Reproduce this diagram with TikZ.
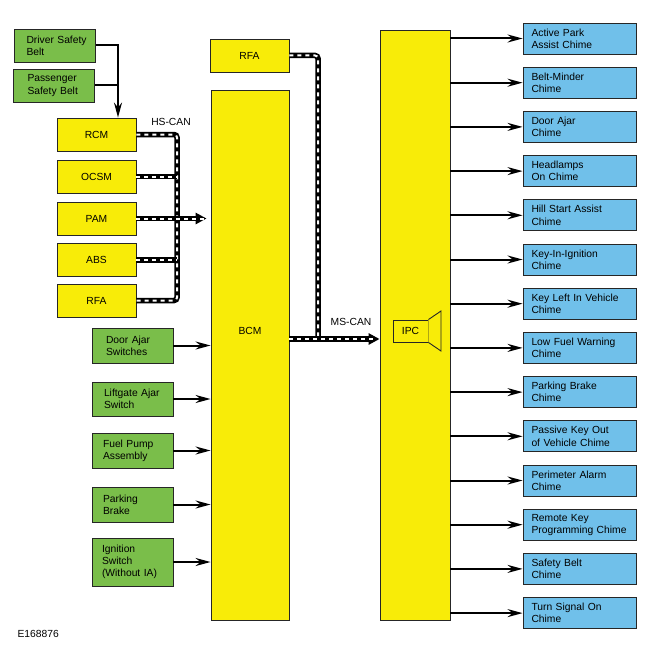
\documentclass[tikz,border=0pt]{standalone}
\usepackage{fontspec}
\setmainfont{Liberation Sans}
\usetikzlibrary{arrows.meta}
\definecolor{ecuyellow}{RGB}{248,236,8}
\definecolor{inputgreen}{RGB}{122,190,74}
\definecolor{chimeblue}{RGB}{112,192,234}

\begin{document}
\begin{tikzpicture}[x=1pt,y=-1pt,
  font=\fontsize{10.3}{12.3}\selectfont,
  ecu/.style={draw=black!85, line width=0.9pt, fill=ecuyellow, minimum width=79pt, minimum height=33pt, inner sep=0pt},
  input/.style={draw=black!85, line width=0.9pt, fill=inputgreen, text width=65pt, inner xsep=8pt, inner ysep=0pt, align=left, minimum height=35pt},
  chime/.style={draw=black!85, line width=0.9pt, fill=chimeblue, text width=96pt, inner xsep=8.5pt, inner ysep=0pt, align=left, minimum height=31pt},
  wire/.style={line width=2pt, -{Stealth[length=15pt,width=8pt,inset=5pt]}},
  canbus/.style={line width=5.5pt, rounded corners=3pt, postaction={draw=white, line width=2pt, dash pattern=on 4pt off 4pt}},
  canarrow/.style={line width=5.5pt, -{Triangle[length=11pt,width=11pt]}, postaction={draw=white, -, line width=2pt, dash pattern=on 4pt off 4pt, shorten >=7pt}},
]
\useasboundingbox (0,0) rectangle (650,650);

% belt switches
\node[input, minimum height=33pt] (DSB) at (55,45.5) {\hspace*{4pt}Driver Safety\\\hspace*{4pt}Belt};
\node[input, minimum height=33pt] (PSB) at (54,85.5) {\hspace*{6pt}Passenger\\\hspace*{6pt}Safety Belt};
\coordinate (beltjoin) at (118,85.5);

% HS-CAN modules
\node[ecu] (RCM) at (96.5,134.5) {RCM};
\node[ecu] (OCSM) at (96.5,176.5) {OCSM};
\node[ecu] (PAM) at (96.5,218.5) {PAM};
\node[ecu] (ABS) at (96.5,260) {ABS};
\node[ecu] (RFA) at (96.5,300.5) {RFA};
\coordinate (hsbus) at (177,218.5);
\node (HSCAN) at (171,122) {HS-CAN};

% main modules
\node[ecu] (RFAtop) at (249.5,55.5) {RFA};
\node[ecu, minimum width=78pt, minimum height=530pt, label={[yshift=24pt]center:BCM}] (BCM) at (250,355) {};
\node[ecu, minimum width=70pt, minimum height=590pt] (cluster) at (415,325) {};
\node[ecu, minimum width=35pt, minimum height=22pt] (IPC) at (410.5,331) {IPC};
\draw[black!85, line width=0.9pt, fill=ecuyellow] (IPC.north east) -- (441,311) -- (441,351) -- (IPC.south east);
\coordinate (msbus) at (318,339);
\node (MSCAN) at (351,322) {MS-CAN};

% BCM inputs
\node[input] (doorsw) at (132.5,345.5) {\hspace*{6pt}Door Ajar\\\hspace*{6pt}Switches};
\node[input, minimum height=34pt] (liftsw) at (132.5,399) {\hspace*{4pt}Liftgate Ajar\\\hspace*{4pt}Switch};
\node[input] (fuelpump) at (132.5,450.5) {\hspace*{3pt}Fuel Pump\\\hspace*{3pt}Assembly};
\node[input] (parkbrake) at (132.5,504.5) {\hspace*{3pt}Parking\\\hspace*{3pt}Brake};
\node[input, minimum height=48pt] (ignsw) at (132.5,562) {\hspace*{2pt}Ignition\\\hspace*{2pt}Switch\\\hspace*{2pt}(Without IA)};

% chimes
\node[chime] (ch1) at (579.5,38.5) {Active Park\\Assist Chime};
\node[chime] (ch2) at (579.5,82.7) {Belt-Minder\\Chime};
\node[chime] (ch3) at (579.5,126.9) {Door Ajar\\Chime};
\node[chime] (ch4) at (579.5,171.1) {Headlamps\\On Chime};
\node[chime] (ch5) at (579.5,215.3) {Hill Start Assist\\Chime};
\node[chime] (ch6) at (579.5,259.5) {Key-In-Ignition\\Chime};
\node[chime] (ch7) at (579.5,303.7) {Key Left In Vehicle\\Chime};
\node[chime] (ch8) at (579.5,347.9) {Low Fuel Warning\\Chime};
\node[chime] (ch9) at (579.5,392.1) {Parking Brake\\Chime};
\node[chime] (ch10) at (579.5,436.3) {Passive Key Out\\of Vehicle Chime};
\node[chime] (ch11) at (579.5,480.5) {Perimeter Alarm\\Chime};
\node[chime] (ch12) at (579.5,524.7) {Remote Key\\Programming Chime};
\node[chime] (ch13) at (579.5,568.9) {Safety Belt\\Chime};
\node[chime] (ch14) at (579.5,613.1) {Turn Signal On\\Chime};

\node[anchor=west] (figid) at (14,634) {E168876};

% belt wiring
\draw[wire] (DSB.east) -| (beltjoin |- RCM.north);
\draw[line width=2pt] (PSB.east) -- (beltjoin);

% HS-CAN
\draw[canbus] (RCM.east) -| (hsbus) |- (RFA.east);
\draw[canbus] (OCSM.east) -- (OCSM.east -| hsbus);
\draw[canbus] (ABS.east) -- (ABS.east -| hsbus);
\draw[canarrow, shorten >=4pt] (PAM.east) -- (PAM.east -| BCM.west);

% MS-CAN
\draw[canbus] (RFAtop.east) -| (msbus);
\draw[canarrow] (msbus -| BCM.east) -- (msbus -| cluster.west);

% inputs to BCM
\draw[wire] (doorsw.east) -- (doorsw.east -| BCM.west);
\draw[wire] (liftsw.east) -- (liftsw.east -| BCM.west);
\draw[wire] (fuelpump.east) -- (fuelpump.east -| BCM.west);
\draw[wire] (parkbrake.east) -- (parkbrake.east -| BCM.west);
\draw[wire] (ignsw.east) -- (ignsw.east -| BCM.west);

% IPC outputs
\draw[wire] (ch1.west -| cluster.east) -- (ch1.west);
\draw[wire] (ch2.west -| cluster.east) -- (ch2.west);
\draw[wire] (ch3.west -| cluster.east) -- (ch3.west);
\draw[wire] (ch4.west -| cluster.east) -- (ch4.west);
\draw[wire] (ch5.west -| cluster.east) -- (ch5.west);
\draw[wire] (ch6.west -| cluster.east) -- (ch6.west);
\draw[wire] (ch7.west -| cluster.east) -- (ch7.west);
\draw[wire] (ch8.west -| cluster.east) -- (ch8.west);
\draw[wire] (ch9.west -| cluster.east) -- (ch9.west);
\draw[wire] (ch10.west -| cluster.east) -- (ch10.west);
\draw[wire] (ch11.west -| cluster.east) -- (ch11.west);
\draw[wire] (ch12.west -| cluster.east) -- (ch12.west);
\draw[wire] (ch13.west -| cluster.east) -- (ch13.west);
\draw[wire] (ch14.west -| cluster.east) -- (ch14.west);
\end{tikzpicture}
\end{document}
